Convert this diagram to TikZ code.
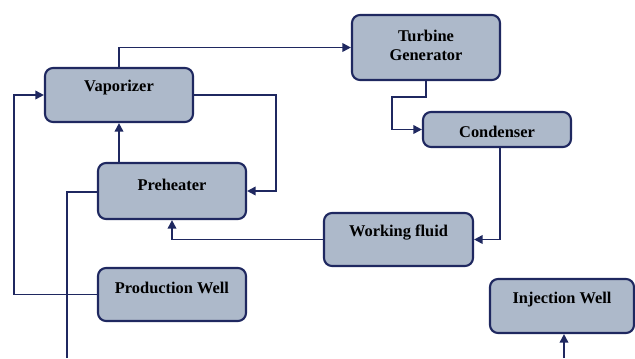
\documentclass[tikz,border=0pt]{standalone}
\usepackage{fontspec}
\setmainfont{Liberation Serif}
\usetikzlibrary{arrows.meta}
\definecolor{boxfill}{HTML}{ADB9CA}
\definecolor{navy}{HTML}{1F2860}
\tikzset{
  box/.style={draw=navy, fill=boxfill, line width=1.6pt, rounded corners=6pt, inner sep=0pt},
  lbl/.style={font=\fontsize{12.3}{14}\selectfont\bfseries, align=center, inner sep=0pt},
  flow/.style={draw=navy, line width=1.4pt, -{Triangle[length=6.5pt,width=6.5pt]}},
  plain/.style={draw=navy, line width=1.4pt}
}
\begin{document}
\begin{tikzpicture}[x=0.75pt,y=-0.75pt]
\useasboundingbox (0,0) rectangle (635,358);
\node[box, minimum width=148*0.75pt, minimum height=54*0.75pt] (vap) at (119,95) {};
\node[lbl] (vapt) at (119,88) {Vaporizer};
\node[box, minimum width=148*0.75pt, minimum height=65*0.75pt] (tg) at (426,47.5) {};
\node[lbl] (tgt) at (426,45.5) {Turbine\\Generator};
\node[box, minimum width=148*0.75pt, minimum height=35*0.75pt] (cond) at (497,129.5) {};
\node[lbl] (condt) at (497,132) {Condenser};
\node[box, minimum width=148*0.75pt, minimum height=56*0.75pt] (pre) at (172,191) {};
\node[lbl] (pret) at (172,185) {Preheater};
\node[box, minimum width=148*0.75pt, minimum height=53*0.75pt] (prod) at (172,294.5) {};
\node[lbl] (prodt) at (172,288) {Production Well};
\node[box, minimum width=149*0.75pt, minimum height=53*0.75pt] (wf) at (398.5,239.5) {};
\node[lbl] (wft) at (398.5,233) {Working fluid};
\node[box, minimum width=144*0.75pt, minimum height=54*0.75pt] (inj) at (562,306) {};
\node[lbl] (injt) at (562,300) {Injection Well};

\coordinate (tgdrop) at (426,97);
\coordinate (tgjog) at (392,97);
\coordinate (vapright) at (276,95);
\coordinate (prodleft) at (14,295);
\coordinate (preleft) at (67,192);
\coordinate (preout) at (67,358);
\coordinate (injin) at (564,358);

\draw[flow] (vap.north) |- (tg.west);
\draw[flow] (tg.south) -- (tgdrop) -- (tgjog) |- (cond.west);
\draw[flow] ([xshift=2.25pt]cond.south) |- (wf.east);
\draw[flow] (wf.west) -| (pre.south);
\draw[flow] (pre.north -| vap.south) -- (vap.south);
\draw[flow] (vap.east) -- (vapright) |- (pre.east);
\draw[flow] (prod.west) -- (prod.west -| prodleft) |- (vap.west);
\draw[plain] (pre.west |- preleft) -- (preleft) -- (preout);
\draw[flow] (injin) -- (injin |- inj.south);
\end{tikzpicture}
\end{document}
